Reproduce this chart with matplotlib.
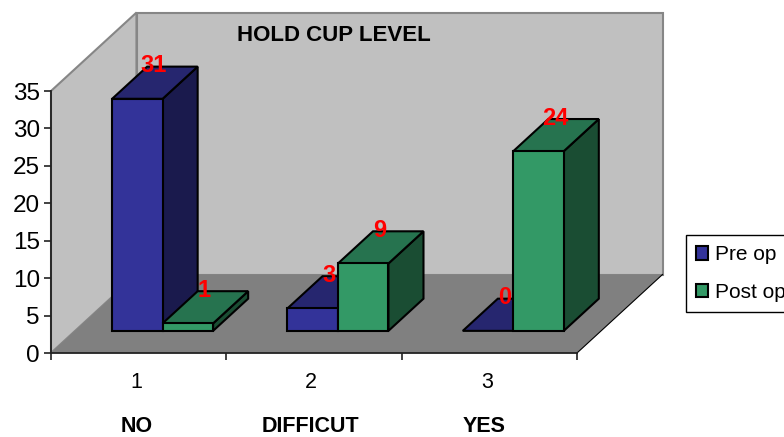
import matplotlib
matplotlib.use('Agg')
import matplotlib.pyplot as plt
from matplotlib.patches import Polygon, Patch

plt.rcParams['font.family'] = ['Liberation Sans', 'DejaVu Sans']

title = 'HOLD CUP LEVEL'
categories = ['1', '2', '3']
category_names = ['NO', 'DIFFICUT', 'YES']
series_names = ['Pre op', 'Post op']
pre_op = [31, 3, 0]
post_op = [1, 9, 24]
y_ticks = [0, 5, 10, 15, 20, 25, 30, 35]

W, H = 784, 437
colors = {
    'Pre op': ('#333399', '#26266f', '#1a1a4d'),
    'Post op': ('#339966', '#26734f', '#1a4d33'),
}

# oblique depth of the 3d box, in data units per full depth
DX = 85.5 / 175.33
DY = 78.5 / 7.486
BAR_W = 0.288
GROUP_START = 0.211
D_FRONT = 0.282
D_BAR = 0.41


def proj(x, y, d):
    return (x + d * DX, y + d * DY)


fig = plt.figure(figsize=(W / 100, H / 100), dpi=100, facecolor='white')
ax = fig.add_axes([51 / W, (H - 353) / H, 526 / W, 262 / H])
ax.set_xlim(0, 3)
ax.set_ylim(0, 35)
ax.patch.set_visible(False)


def face(pts, fc, ec='black', lw=1.5, z=3):
    ax.add_patch(Polygon(pts, closed=True, facecolor=fc, edgecolor=ec, linewidth=lw,
                         joinstyle='miter', clip_on=False, zorder=z))


# walls and floor
wall_edge = '#868686'
face([proj(0, 0, 0), proj(0, 35, 0), proj(0, 35, 1), proj(0, 0, 1)], '#c0c0c0', wall_edge, 1.5, 1)
face([proj(0, 0, 1), proj(0, 35, 1), proj(3, 35, 1), proj(3, 0, 1)], '#c0c0c0', wall_edge, 1.5, 1)
face([proj(0, 0, 0), proj(0, 0, 1), proj(3, 0, 1), proj(3, 0, 0)], '#808080', 'none', 0, 1.5)
ax.plot(*zip(proj(3, 0, 0), proj(3, 0, 1)), color='black', lw=0.8, clip_on=False, zorder=1.6)


def draw_bar(x, val, name):
    front, top, side = colors[name]
    d0, d1 = D_FRONT, D_FRONT + D_BAR
    x1 = x + BAR_W
    if val > 0:
        face([proj(x1, 0, d0), proj(x1, val, d0), proj(x1, val, d1), proj(x1, 0, d1)], side)
    face([proj(x, val, d0), proj(x1, val, d0), proj(x1, val, d1), proj(x, val, d1)], top)
    if val > 0:
        face([proj(x, 0, d0), proj(x1, 0, d0), proj(x1, val, d0), proj(x, val, d0)], front)
    lx, ly = proj(x + BAR_W / 2, val, D_FRONT)
    ax.text(lx + 0.094, ly + 4.4, str(val), color='#ff0000', fontsize=17,
            fontweight='bold', ha='center', va='center', zorder=6, clip_on=False)


for i in range(len(categories)):
    draw_bar(i + GROUP_START, pre_op[i], series_names[0])
    draw_bar(i + GROUP_START + BAR_W, post_op[i], series_names[1])

# axes
for s in ['top', 'right']:
    ax.spines[s].set_visible(False)
for s in ['left', 'bottom']:
    ax.spines[s].set_linewidth(1.3)
    ax.spines[s].set_color('#222222')
    ax.spines[s].set_zorder(2)
ax.set_yticks(y_ticks)
ax.tick_params(axis='y', length=5, width=1.2, labelsize=17.5, pad=3, color='#222222')
ax.set_xticks([0, 1, 2, 3])
ax.set_xticklabels([])
ax.tick_params(axis='x', which='major', length=5, width=1.2, color='#222222')
ax.set_xticks([0.485, 1.485, 2.485], minor=True)
ax.set_xticklabels(categories, minor=True)
ax.tick_params(axis='x', which='minor', length=0, labelsize=15.5, pad=14)

for i, name in enumerate(category_names):
    ax.text(i + 0.488 - i * 0.01, -9.85, name, fontsize=15.5, fontweight='bold',
            ha='center', va='center', clip_on=False)

ax.set_title(title, x=0.538, y=1.21, va='center', fontsize=16, fontweight='bold', pad=0)

handles = [Patch(facecolor=colors[n][0], edgecolor='black', linewidth=1.5) for n in series_names]
leg = ax.legend(handles, series_names, loc='upper left', bbox_to_anchor=(686 / W, 1 - 235 / H),
                bbox_transform=fig.transFigure, fontsize=15, frameon=True, fancybox=False,
                framealpha=1, edgecolor='black', handlelength=0.55, handleheight=0.6,
                handletextpad=0.35, labelspacing=0.88, borderpad=0.5, borderaxespad=0)
leg.get_frame().set_linewidth(1)

fig.savefig('out.png', dpi=100, facecolor='white')
